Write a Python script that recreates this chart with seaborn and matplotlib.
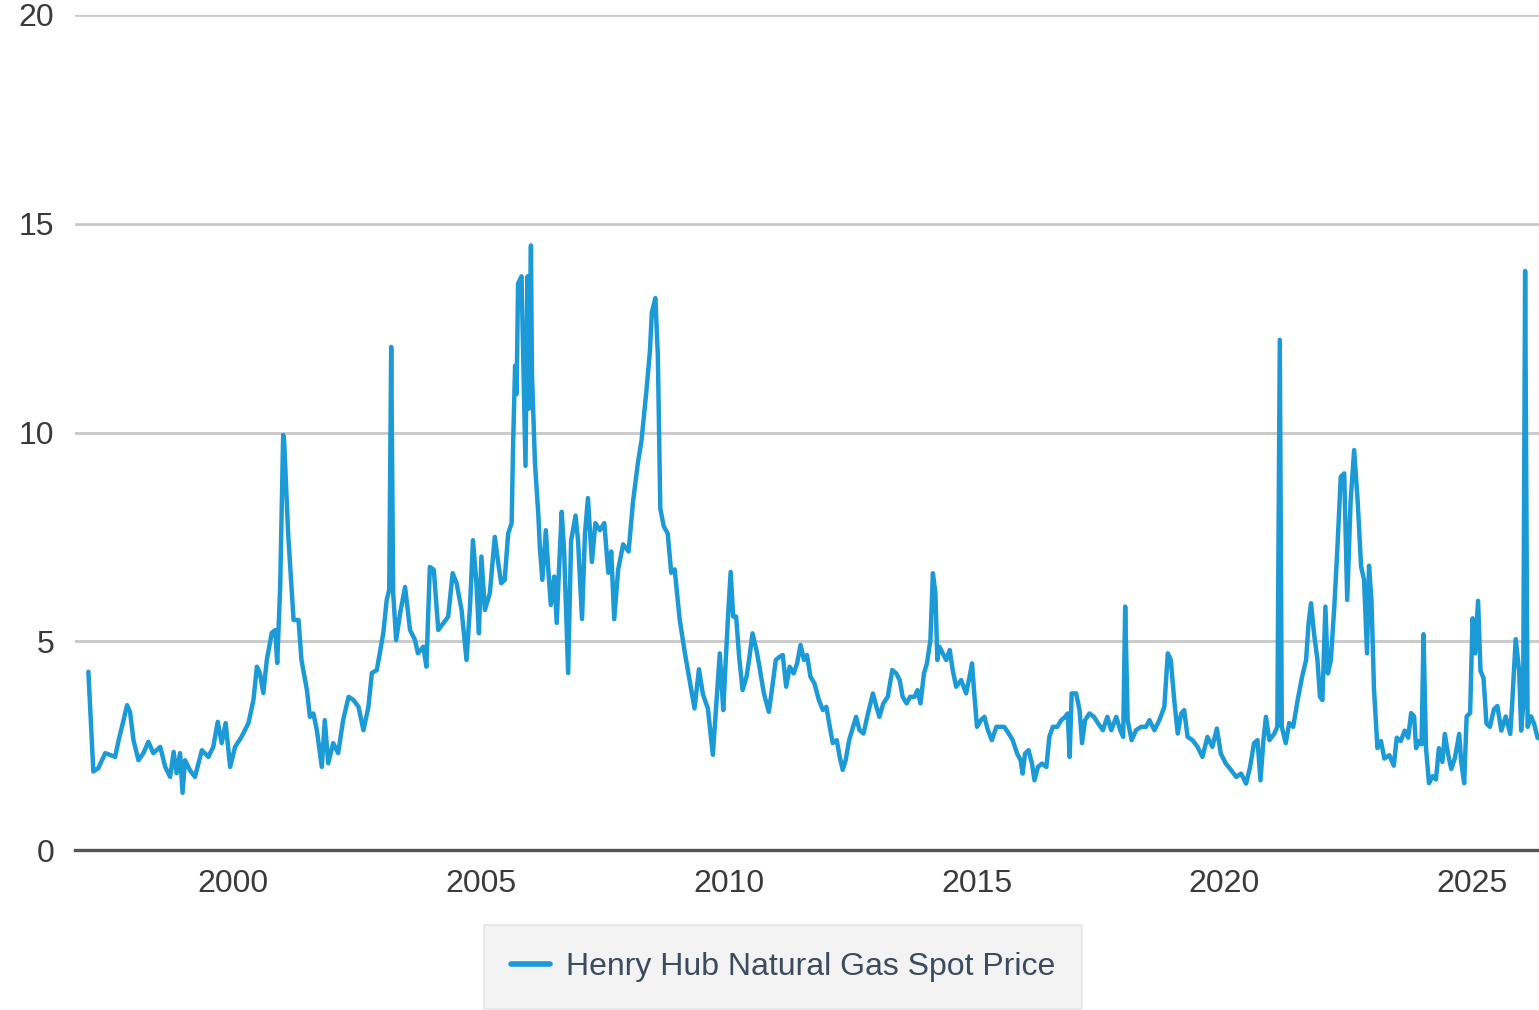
import matplotlib
matplotlib.use("Agg")
import matplotlib.pyplot as plt
import seaborn as sns
import pandas as pd

# ============================================================
# DATA: Henry Hub natural gas spot price
# ============================================================

years = [
    1997.08, 1997.18, 1997.28, 1997.42, 1997.62, 1997.69, 1997.79, 1997.86, 1997.92, 1997.99,
    1998.09, 1998.19, 1998.29, 1998.39, 1998.53, 1998.63, 1998.73, 1998.80, 1998.86, 1998.93,
    1998.98, 1999.03, 1999.13, 1999.23, 1999.37, 1999.50, 1999.60, 1999.69, 1999.77, 1999.85,
    1999.94, 2000.04, 2000.17, 2000.31, 2000.41, 2000.48, 2000.54, 2000.61, 2000.68, 2000.78,
    2000.85, 2000.89, 2000.95, 2001.01, 2001.03, 2001.11,
    2001.22, 2001.32, 2001.38, 2001.49, 2001.55, 2001.62, 2001.69, 2001.79, 2001.85, 2001.92,
    2002.02, 2002.12, 2002.22, 2002.33, 2002.43, 2002.53, 2002.63, 2002.73, 2002.80, 2002.90,
    2002.96, 2003.03, 2003.10, 2003.15, 2003.19, 2003.23, 2003.29, 2003.37, 2003.47, 2003.57,
    2003.67, 2003.73, 2003.84, 2003.90, 2003.97, 2004.05, 2004.14, 2004.24, 2004.34, 2004.43,
    2004.51, 2004.61, 2004.71, 2004.78, 2004.84, 2004.91, 2004.96, 2005.01, 2005.08, 2005.18,
    2005.28, 2005.35, 2005.41,
    2005.48, 2005.55, 2005.62, 2005.65, 2005.69, 2005.72, 2005.75, 2005.82, 2005.90, 2005.94,
    2005.97, 2006.01, 2006.03, 2006.09, 2006.16, 2006.19, 2006.24, 2006.31, 2006.36, 2006.41,
    2006.48, 2006.53, 2006.57, 2006.63, 2006.68, 2006.76, 2006.82, 2006.91, 2006.96, 2007.04,
    2007.10, 2007.16, 2007.24, 2007.31, 2007.40, 2007.49, 2007.57, 2007.63, 2007.69, 2007.77,
    2007.87, 2007.98, 2008.07, 2008.17, 2008.24, 2008.34, 2008.41, 2008.45, 2008.52, 2008.57,
    2008.62, 2008.69, 2008.77, 2008.84, 2008.91, 2009.01, 2009.11, 2009.21, 2009.31, 2009.40,
    2009.48, 2009.58, 2009.68,
    2009.82, 2009.89, 2009.92, 2009.99, 2010.04, 2010.09, 2010.15, 2010.21, 2010.28, 2010.36,
    2010.42, 2010.48, 2010.56, 2010.62, 2010.71, 2010.81, 2010.88, 2010.95, 2011.03, 2011.09,
    2011.16, 2011.23, 2011.31, 2011.38, 2011.45, 2011.52, 2011.58, 2011.65, 2011.73, 2011.82,
    2011.90, 2011.97, 2012.04, 2012.10, 2012.18, 2012.24, 2012.30, 2012.36, 2012.43, 2012.49,
    2012.57, 2012.64, 2012.72, 2012.81, 2012.91, 2012.98, 2013.04, 2013.12, 2013.21, 2013.30,
    2013.38, 2013.45, 2013.51, 2013.59, 2013.66, 2013.75, 2013.81, 2013.87, 2013.94, 2014.00,
    2014.07, 2014.12, 2014.17,
    2014.21, 2014.25, 2014.32, 2014.39, 2014.46, 2014.52, 2014.59, 2014.69, 2014.79, 2014.86,
    2014.91, 2014.96, 2015.01, 2015.09, 2015.16, 2015.23, 2015.31, 2015.40, 2015.48, 2015.56,
    2015.65, 2015.73, 2015.82, 2015.89, 2015.93, 2015.98, 2016.05, 2016.12, 2016.17, 2016.24,
    2016.32, 2016.41, 2016.47, 2016.54, 2016.63, 2016.71, 2016.79, 2016.84, 2016.88, 2016.92,
    2017.01, 2017.08, 2017.13, 2017.19, 2017.28, 2017.37, 2017.45, 2017.55, 2017.64, 2017.72,
    2017.82, 2017.90, 2017.96, 2018.00, 2018.05, 2018.13, 2018.22, 2018.32, 2018.42,
    2018.49, 2018.59, 2018.69, 2018.79, 2018.86, 2018.92, 2018.99, 2019.06, 2019.13, 2019.19,
    2019.26, 2019.36, 2019.46, 2019.56, 2019.66, 2019.76, 2019.85, 2019.93, 2020.03, 2020.14,
    2020.24, 2020.34, 2020.44, 2020.52, 2020.60, 2020.67, 2020.73, 2020.79, 2020.84, 2020.91,
    2021.01, 2021.07, 2021.12, 2021.16, 2021.24, 2021.31, 2021.39, 2021.48, 2021.57, 2021.65,
    2021.70, 2021.75, 2021.81, 2021.88, 2021.93, 2021.98, 2022.04, 2022.09, 2022.15, 2022.22,
    2022.28, 2022.35, 2022.42, 2022.48, 2022.55, 2022.62, 2022.69, 2022.76,
    2022.82, 2022.88, 2022.92, 2022.97, 2023.02, 2023.09, 2023.16, 2023.23, 2023.33, 2023.42,
    2023.48, 2023.56, 2023.64, 2023.71, 2023.77, 2023.83, 2023.87, 2023.93, 2023.98, 2024.02,
    2024.07, 2024.13, 2024.20, 2024.27, 2024.33, 2024.40, 2024.45, 2024.52, 2024.58, 2024.65,
    2024.74, 2024.78, 2024.84, 2024.89, 2024.96, 2025.01, 2025.06, 2025.12, 2025.17, 2025.23,
    2025.29, 2025.36, 2025.44, 2025.51, 2025.59, 2025.68, 2025.77, 2025.81, 2025.88, 2025.95,
    2025.99, 2026.03, 2026.07, 2026.12, 2026.19, 2026.25, 2026.32, 2026.40,
]

prices = [
    4.27, 1.88, 1.96, 2.32, 2.23, 2.63, 3.11, 3.47, 3.31, 2.63,
    2.15, 2.32, 2.59, 2.32, 2.47, 1.99, 1.75, 2.35, 1.84, 2.32,
    1.37, 2.15, 1.91, 1.75, 2.39, 2.23, 2.47, 3.07, 2.56, 3.04,
    1.99, 2.47, 2.71, 3.04, 3.59, 4.39, 4.24, 3.76, 4.55, 5.20,
    5.27, 4.48, 6.30, 9.94, 9.80, 7.59,
    5.51, 5.51, 4.55, 3.83, 3.19, 3.27, 2.87, 1.99, 3.11, 2.08,
    2.56, 2.32, 3.11, 3.67, 3.59, 3.43, 2.87, 3.43, 4.24, 4.31,
    4.71, 5.19, 5.99, 6.23, 12.05, 6.15, 5.03, 5.67, 6.30, 5.27,
    5.03, 4.71, 4.87, 4.39, 6.78, 6.71, 5.27, 5.43, 5.59, 6.63,
    6.39, 5.75, 4.55, 5.83, 7.42, 6.39, 5.19, 7.03, 5.75, 6.15,
    7.50, 6.87, 6.39,
    6.47, 7.58, 7.83, 9.72, 11.60, 10.92, 13.57, 13.74, 9.20, 13.74,
    10.57, 14.48, 11.43, 9.29, 8.01, 7.24, 6.47, 7.66, 6.72, 5.87,
    6.55, 5.44, 6.55, 8.10, 7.15, 4.24, 7.41, 8.01, 7.41, 5.53,
    7.58, 8.43, 6.90, 7.83, 7.66, 7.83, 6.64, 7.15, 5.53, 6.72,
    7.32, 7.15, 8.35, 9.29, 9.80, 11.00, 11.94, 12.88, 13.22, 11.86,
    8.18, 7.75, 7.58, 6.64, 6.72, 5.53, 4.76, 4.07, 3.39, 4.33,
    3.73, 3.39, 2.28,
    4.71, 3.35, 4.07, 5.67, 6.66, 5.59, 5.59, 4.63, 3.83, 4.15,
    4.63, 5.19, 4.79, 4.39, 3.75, 3.31, 3.91, 4.55, 4.63, 4.67,
    3.91, 4.39, 4.23, 4.47, 4.91, 4.55, 4.67, 4.15, 3.99, 3.59,
    3.35, 3.43, 2.95, 2.56, 2.63, 2.23, 1.92, 2.15, 2.63, 2.87,
    3.19, 2.87, 2.79, 3.27, 3.75, 3.43, 3.19, 3.51, 3.67, 4.31,
    4.23, 4.07, 3.67, 3.51, 3.67, 3.67, 3.83, 3.51, 4.23, 4.47,
    5.03, 6.63, 6.16,
    4.55, 4.87, 4.71, 4.55, 4.79, 4.31, 3.91, 4.07, 3.75, 4.15,
    4.47, 3.67, 2.95, 3.11, 3.19, 2.87, 2.63, 2.95, 2.95, 2.95,
    2.79, 2.63, 2.31, 2.15, 1.83, 2.31, 2.39, 2.07, 1.67, 1.99,
    2.07, 1.99, 2.71, 2.95, 2.95, 3.11, 3.19, 3.27, 2.23, 3.75,
    3.75, 3.35, 2.56, 3.11, 3.27, 3.19, 3.04, 2.87, 3.19, 2.87,
    3.19, 2.87, 2.71, 5.83, 3.11, 2.63, 2.87, 2.95, 2.95,
    3.11, 2.87, 3.11, 3.43, 4.71, 4.55, 3.59, 2.79, 3.27, 3.35,
    2.71, 2.63, 2.47, 2.23, 2.71, 2.47, 2.91, 2.31, 2.07, 1.91,
    1.75, 1.83, 1.59, 1.99, 2.56, 2.63, 1.67, 2.63, 3.19, 2.63,
    2.79, 2.95, 12.22, 2.95, 2.56, 3.04, 2.95, 3.59, 4.15, 4.55,
    5.43, 5.91, 5.19, 4.55, 3.67, 3.59, 5.83, 4.23, 4.55, 5.83,
    7.18, 8.94, 9.02, 5.99, 8.38, 9.58, 8.38, 6.79,
    6.47, 4.71, 6.81, 5.97, 3.87, 2.44, 2.61, 2.19, 2.27, 2.02,
    2.69, 2.61, 2.86, 2.69, 3.28, 3.20, 2.44, 2.61, 2.53, 5.17,
    2.44, 1.60, 1.77, 1.69, 2.44, 2.11, 2.78, 2.27, 1.94, 2.19,
    2.78, 2.11, 1.60, 3.20, 3.28, 5.55, 4.71, 5.97, 4.29, 4.12,
    3.03, 2.95, 3.37, 3.45, 2.86, 3.20, 2.78, 3.53, 5.05, 4.29,
    2.86, 3.45, 13.87, 2.95, 3.20, 3.03, 2.69, 2.65,
]

series_name = "Henry Hub Natural Gas Spot Price"
y_ticks = [0, 5, 10, 15, 20]
x_ticks = [2000, 2005, 2010, 2015, 2020, 2025]

df = pd.DataFrame({"year": years, "price": prices})

# ============================================================
# STYLE
# ============================================================

sns.set_style("white")
plt.rcParams["font.family"] = ["Liberation Sans Narrow", "Liberation Sans", "DejaVu Sans"]

line_color = "#1b9ad6"
text_color = "#3a3a3a"
font_size = 23

fig = plt.figure(figsize=(15.39, 10.10), dpi=100)
ax = fig.add_axes([75 / 1539, 1 - 850 / 1010, 1 - 75 / 1539, 835 / 1010])

sns.lineplot(data=df, x="year", y="price", ax=ax, color=line_color,
             linewidth=3.2, label=series_name)

ax.set_xlim(1996.81, 2026.35)
ax.set_ylim(0, 20)
ax.set_xticks(x_ticks)
ax.set_yticks(y_ticks)
ax.set_xlabel("")
ax.set_ylabel("")

# horizontal gridlines only
ax.grid(axis="y", color="#c8c8c8", linewidth=2.0)
ax.grid(axis="x", visible=False)
ax.set_axisbelow(True)

for side in ["left", "right", "top"]:
    ax.spines[side].set_visible(False)
ax.spines["bottom"].set_color("#555555")
ax.spines["bottom"].set_linewidth(2.4)
ax.spines["bottom"].set_zorder(3)

ax.tick_params(axis="x", length=9, width=1.6, color="#555555", pad=5,
               labelsize=font_size, labelcolor=text_color)
ax.tick_params(axis="y", length=0, pad=15, labelsize=font_size, labelcolor=text_color)
for lab in ax.get_yticklabels():
    lab.set_verticalalignment("center_baseline")

# legend below the axis, boxed in light gray
leg = ax.legend(loc="upper center", bbox_to_anchor=(783 / 1539, 1 - 925 / 1010),
                bbox_transform=fig.transFigure, frameon=True, fancybox=False,
                fontsize=font_size, handlelength=1.2, handletextpad=0.5,
                borderpad=0.85, borderaxespad=0)
leg.get_frame().set_facecolor("#f0f0f0")
leg.get_frame().set_edgecolor("#e2e2e2")
leg.get_frame().set_linewidth(1.2)
for txt in leg.get_texts():
    txt.set_color("#3d4b5e")
for h in leg.get_lines():
    h.set_linewidth(4)

fig.savefig("out.png", dpi=100)
plt.close()
